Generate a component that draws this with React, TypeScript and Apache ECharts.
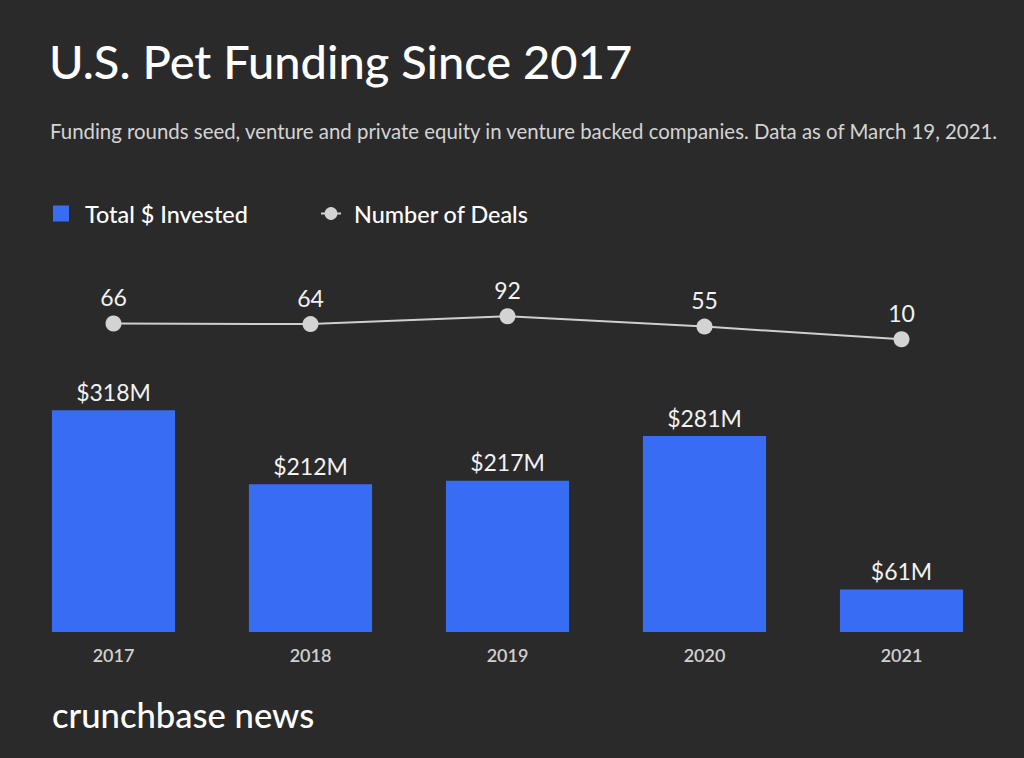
import React, { useEffect, useRef } from "react";
import * as echarts from "echarts";

const years = ["2017", "2018", "2019", "2020", "2021"];
const invested = [318, 212, 217, 281, 61];
const deals = [66, 64, 92, 55, 10];

const FONT = "Lato, 'Noto Sans', sans-serif";

export default function App() {
  const ref = useRef<HTMLDivElement>(null);
  useEffect(() => {
    document.body.style.margin = "0";
    const chart = echarts.init(ref.current!, null, { renderer: "svg" });
    chart.setOption({
      animation: false,
      backgroundColor: "#2a2a2a",
      textStyle: { fontFamily: FONT },
      graphic: [
        {
          type: "text",
          left: 49,
          top: 37,
          style: {
            text: "U.S. Pet Funding Since 2017",
            fill: "#ffffff",
            font: `500 47px ${FONT}`,
          },
        },
        {
          type: "text",
          left: 50,
          top: 121,
          style: {
            text: "Funding rounds seed, venture and private equity in venture backed companies. Data as of March 19, 2021.",
            fill: "#d4d4d4",
            font: `400 20.4px ${FONT}`,
          },
        },
        {
          type: "text",
          left: 52,
          top: 697,
          style: {
            text: "crunchbase news",
            fill: "#ffffff",
            font: `500 34.6px ${FONT}`,
          },
        },
      ],
      legend: [
        {
          data: [{ name: "Total $ Invested", icon: "rect" }],
          left: 48,
          top: 197,
          itemWidth: 16,
          itemHeight: 16,
          textStyle: { color: "#ffffff", fontSize: 23.4, fontWeight: 500, padding: [0, 0, 0, 11], fontFamily: FONT },
        },
        {
          data: ["Number of Deals"],
          left: 315,
          top: 197,
          itemWidth: 20,
          itemHeight: 16,
          textStyle: { color: "#ffffff", fontSize: 23.4, fontWeight: 500, padding: [0, 0, 0, 8], fontFamily: FONT },
        },
      ],
      grid: [
        { left: 15, right: 24, top: 353, bottom: 126 },
        { left: 15, right: 24, top: 314, bottom: 416 },
      ],
      xAxis: [
        {
          type: "category",
          data: years,
          gridIndex: 0,
          axisLine: { show: false },
          axisTick: { show: false },
          axisLabel: { color: "#d0d0d0", fontSize: 18, fontWeight: 600, margin: 14, fontFamily: FONT },
        },
        {
          type: "category",
          data: years,
          gridIndex: 1,
          show: false,
        },
      ],
      yAxis: [
        { type: "value", gridIndex: 0, min: 0, max: 400, show: false, splitLine: { show: false } },
        { type: "value", gridIndex: 1, min: 0, max: 100, show: false, splitLine: { show: false } },
      ],
      series: [
        {
          name: "Total $ Invested",
          type: "bar",
          data: invested,
          xAxisIndex: 0,
          yAxisIndex: 0,
          barWidth: "62.5%",
          itemStyle: { color: "#386cf2" },
          label: {
            show: true,
            position: "top",
            distance: 7,
            color: "#f2f2f2",
            fontSize: 23,
            fontFamily: FONT,
            formatter: (p: any) => `$${p.value}M`,
          },
        },
        {
          name: "Number of Deals",
          type: "line",
          data: deals,
          xAxisIndex: 1,
          yAxisIndex: 1,
          symbol: "circle",
          symbolSize: 16,
          lineStyle: { color: "#cfcfcf", width: 2 },
          itemStyle: { color: "#d3d3d3" },
          label: {
            show: true,
            position: "top",
            distance: 7,
            color: "#f2f2f2",
            fontSize: 23,
            fontFamily: FONT,
          },
        },
      ],
    });
    return () => chart.dispose();
  }, []);
  return <div ref={ref} style={{ width: 1024, height: 758 }} />;
}
